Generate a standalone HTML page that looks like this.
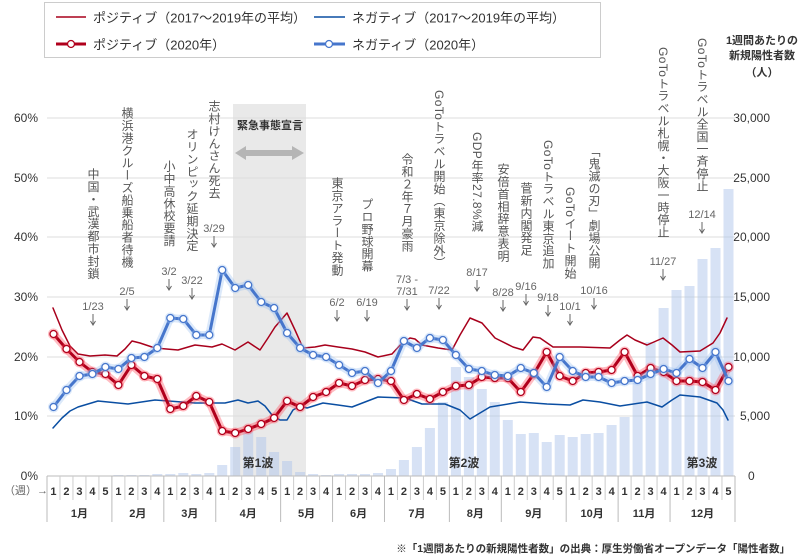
<!DOCTYPE html>
<html><head><meta charset="utf-8">
<style>
html,body{margin:0;padding:0;background:#fff;}
#wrap{position:relative;width:800px;height:560px;overflow:hidden;font-family:"Liberation Sans","Noto Sans CJK JP",sans-serif;}
svg{position:absolute;left:0;top:0;}
.v{position:absolute;writing-mode:vertical-rl;font-size:12px;line-height:12px;letter-spacing:0.4px;color:#555;white-space:nowrap;transform:translateX(-50%);}
.d{position:absolute;font-size:11px;color:#666;transform:translate(-50%,-50%);white-space:nowrap;line-height:12px;text-align:center;}
.lg{position:absolute;left:44px;top:2px;width:557px;height:56px;border:1px solid #ccc;box-sizing:border-box;}
.lt{position:absolute;font-size:13px;color:#333;white-space:nowrap;transform:translateY(-50%);}
</style></head><body>
<div id="wrap">
<svg id="s" width="800" height="560" xmlns="http://www.w3.org/2000/svg"></svg>
<div class="lg"></div>
<div class="lt" style="left:93px;top:17px">ポジティブ（2017〜2019年の平均）</div>
<div class="lt" style="left:352px;top:17px">ネガティブ（2017〜2019年の平均）</div>
<div class="lt" style="left:93px;top:44px">ポジティブ（2020年）</div>
<div class="lt" style="left:352px;top:44px">ネガティブ（2020年）</div>

<div class="v" style="left:93px;top:168px">中国・武漢都市封鎖</div>
<div class="v" style="left:127px;top:107px">横浜港クルーズ船乗船者待機</div>
<div class="v" style="left:169px;top:160px">小中高休校要請</div>
<div class="v" style="left:192px;top:128px">オリンピック延期決定</div>
<div class="v" style="left:214px;top:100px">志村けんさん死去</div>
<div class="v" style="left:337px;top:177px">東京アラート発動</div>
<div class="v" style="left:367px;top:198px">プロ野球開幕</div>
<div class="v" style="left:407px;top:153px">令和２年７月豪雨</div>
<div class="v" style="left:439px;top:90px">GoToトラベル開始（東京除外）</div>
<div class="v" style="left:477px;top:132px">GDP年率27.8%減</div>
<div class="v" style="left:503px;top:163px">安倍首相辞意表明</div>
<div class="v" style="left:526px;top:182px">菅新内閣発足</div>
<div class="v" style="left:548px;top:140px">GoToトラベル東京追加</div>
<div class="v" style="left:570px;top:187px">GoToイート開始</div>
<div class="v" style="left:594px;top:145px">「鬼滅の刃」劇場公開</div>
<div class="v" style="left:663px;top:47px">GoToトラベル札幌・大阪一時停止</div>
<div class="v" style="left:702px;top:38px">GoToトラベル全国一斉停止</div>

<div class="d" style="left:93px;top:307px">1/23</div>
<div class="d" style="left:127px;top:292px">2/5</div>
<div class="d" style="left:169px;top:272px">3/2</div>
<div class="d" style="left:192px;top:281px">3/22</div>
<div class="d" style="left:214px;top:229px">3/29</div>
<div class="d" style="left:337px;top:303px">6/2</div>
<div class="d" style="left:367px;top:303px">6/19</div>
<div class="d" style="left:407px;top:286px">7/3 -<br>7/31</div>
<div class="d" style="left:439px;top:291px">7/22</div>
<div class="d" style="left:477px;top:273px">8/17</div>
<div class="d" style="left:503px;top:293px">8/28</div>
<div class="d" style="left:526px;top:287px">9/16</div>
<div class="d" style="left:548px;top:298px">9/18</div>
<div class="d" style="left:570px;top:307px">10/1</div>
<div class="d" style="left:594px;top:291px">10/16</div>
<div class="d" style="left:663px;top:262px">11/27</div>
<div class="d" style="left:702px;top:215px">12/14</div>
</div>
<script>
var s=document.getElementById('s'),h='';
function X(i){return 47+12.98*(i-0.5);}
h+='<rect x="233" y="104" width="73" height="372" fill="#e9e9e9"/>';
[118,178,237,297,357,416].forEach(function(y){h+='<line x1="47" x2="735" y1="'+y+'" y2="'+y+'" stroke="#ddd" stroke-width="1"/>';});
var bars=[476,476,476,476,476,475,475,475,474,474,473,474,473,465,447,432,437,452,461,472,474,475,474,474,474,473,469,460,447,428,402,367,377,389,402,420,434,433,442,435,437,434,433,425,417,383,342,308,290,286,259,248,189];
bars.forEach(function(t,k){if(t<476)h+='<rect x="'+(X(k+1)-5).toFixed(1)+'" y="'+t+'" width="10" height="'+(476-t)+'" fill="rgb(175,198,235)" fill-opacity="0.5"/>';});
h+='<line x1="47" x2="735" y1="476" y2="476" stroke="#bbb"/>';
var L=['60%','50%','40%','30%','20%','10%','0%'],R=['30,000','25,000','20,000','15,000','10,000','5,000','0'];
[118,178,237,297,357,416,476].forEach(function(y,k){
h+='<text x="38" y="'+(y+4)+'" font-size="12" text-anchor="end" fill="#333">'+L[k]+'</text>';
h+='<text x="'+(k==6?748:770)+'" y="'+(y+4)+'" font-size="12" text-anchor="'+(k==6?'start':'end')+'" fill="#333">'+R[k]+'</text>';});
h+='<text x="762" y="44" font-size="11" font-weight="bold" text-anchor="middle" fill="#333">1週間あたりの</text>';
h+='<text x="762" y="59" font-size="11" font-weight="bold" text-anchor="middle" fill="#333">新規陽性者数</text>';
h+='<text x="762" y="76" font-size="11" font-weight="bold" text-anchor="middle" fill="#333">（人）</text>';
var months=[5,4,4,5,4,4,5,4,5,4,4,5],wi=1;
h+='<text x="4" y="494" font-size="11" fill="#666">（週）→</text>';
months.forEach(function(n,m){
 var x0=47+12.98*(wi-1);
 h+='<line x1="'+x0+'" x2="'+x0+'" y1="476" y2="522" stroke="#bbb"/>';
 for(var j=1;j<=n;j++){var xi=X(wi+j-1);
  if(j>1)h+='<line x1="'+(xi-6.49)+'" x2="'+(xi-6.49)+'" y1="476" y2="500" stroke="#ccc"/>';
  h+='<text x="'+xi+'" y="495" font-size="11" font-weight="bold" text-anchor="middle" fill="#333">'+j+'</text>';}
 h+='<text x="'+(x0+12.98*n/2)+'" y="517" font-size="11" font-weight="bold" text-anchor="middle" fill="#333">'+(m+1)+'月</text>';
 wi+=n;});
h+='<line x1="735" x2="735" y1="476" y2="522" stroke="#bbb"/>';
h+='<text x="270" y="129" font-size="11" font-weight="bold" text-anchor="middle" fill="#333">緊急事態宣言</text>';
h+='<path d="M235 153 L246 146 L246 150 L292 150 L292 146 L304 153 L292 160 L292 156 L246 156 L246 160 Z" fill="#b5b5b5"/>';
h+='<text x="258" y="467" font-size="12" font-weight="bold" text-anchor="middle" fill="#333">第1波</text>';
h+='<text x="464" y="467" font-size="12" font-weight="bold" text-anchor="middle" fill="#333">第2波</text>';
h+='<text x="702" y="467" font-size="12" font-weight="bold" text-anchor="middle" fill="#333">第3波</text>';
[[93,307],[127,292],[169,272],[192,281],[214,229],[337,303],[367,303],[407,292],[439,291],[477,273],[503,293],[526,287],[548,298],[570,307],[594,291],[663,262],[702,215]].forEach(function(a){
 var y=a[1]+7;h+='<line x1="'+a[0]+'" x2="'+a[0]+'" y1="'+y+'" y2="'+(y+10)+'" stroke="#666" stroke-width="1"/><path d="M'+(a[0]-2.5)+' '+(y+7)+' L'+a[0]+' '+(y+11)+' L'+(a[0]+2.5)+' '+(y+7)+'" fill="none" stroke="#666" stroke-width="1"/>';});
function pl(p,c,w,o){return '<polyline points="'+p.map(function(q){return q.join(',')}).join(' ')+'" fill="none" stroke="'+c+'" stroke-width="'+w+'" stroke-linejoin="round" stroke-linecap="round"'+(o?' stroke-opacity="'+o+'"':'')+'/>';}
var ra=[[53,308],[62,330],[70,346],[78,354],[90,356],[105,355],[117,356],[125,349],[132,341],[140,343],[155,348],[178,350],[195,345],[212,347],[222,344],[235,350],[248,342],[260,350],[268,338],[275,327],[287,313],[295,330],[303,348],[315,347],[325,345],[338,347],[352,349],[365,352],[378,357],[392,354],[402,343],[410,338],[415,339],[422,345],[438,348],[452,350],[460,335],[470,318],[482,323],[495,338],[513,347],[523,350],[533,337],[540,338],[553,347],[580,347],[610,348],[620,340],[627,335],[635,340],[647,345],[663,338],[672,345],[680,352],[700,351],[713,343],[720,333],[727,318]];
var ba=[[53,428],[62,418],[70,411],[78,407],[98,401],[128,404],[155,400],[195,403],[225,403],[238,400],[248,403],[258,401],[265,406],[272,415],[280,420],[287,420],[293,410],[300,406],[307,408],[323,403],[338,405],[352,407],[378,397],[405,398],[422,404],[445,404],[460,410],[470,419],[480,413],[490,407],[520,402],[547,404],[570,405],[583,400],[600,402],[620,406],[647,402],[662,407],[672,400],[680,395],[700,397],[717,403],[723,410],[728,420]];
h+=pl(ra,'#a8001c',1.5)+pl(ba,'#0a4ea2',1.5);
var r=[334,349,362,372,374,385,365,376,379,409,406,396,402,431,433,429,424,418,401,407,397,392,383,386,380,379,381,400,394,399,392,386,385,377,378,378,392,374,352,376,381,373,372,370,352,376,368,372,381,381,382,390,367];
var b=[407,390,376,374,367,369,358,357,348,318,319,335,335,270,288,285,302,308,333,348,355,357,365,373,371,383,371,341,348,338,340,355,369,371,375,376,368,373,387,357,371,377,377,383,381,380,374,369,373,359,368,352,381];
function ser(d,c,g){var p=d.map(function(y,k){return [X(k+1).toFixed(1),y]});
 var o=pl(p,g,8,0.35)+pl(p,c,3);
 p.forEach(function(q){o+='<circle cx="'+q[0]+'" cy="'+q[1]+'" r="5.5" fill="'+g+'" fill-opacity="0.35"/><circle cx="'+q[0]+'" cy="'+q[1]+'" r="3.5" fill="#fff" stroke="'+c+'" stroke-width="1.3"/>';});return o;}
h+=ser(r,'#b0001c','#ff4050')+ser(b,'#4676cc','#9cc0f0');
h+='<line x1="56" x2="86" y1="17" y2="17" stroke="#a8001c" stroke-width="1.5"/>';
h+='<line x1="314" x2="345" y1="17" y2="17" stroke="#0a4ea2" stroke-width="1.5"/>';
h+='<line x1="56" x2="86" y1="44" y2="44" stroke="#b0001c" stroke-width="3"/><circle cx="71" cy="44" r="3.5" fill="#fff" stroke="#b0001c" stroke-width="1.3"/>';
h+='<line x1="314" x2="345" y1="44" y2="44" stroke="#4676cc" stroke-width="3"/><circle cx="329" cy="44" r="3.5" fill="#fff" stroke="#4676cc" stroke-width="1.3"/>';
h+='<text x="790" y="552" font-size="10.5" font-weight="bold" text-anchor="end" fill="#333">※「1週間あたりの新規陽性者数」の出典：厚生労働省オープンデータ「陽性者数」</text>';
s.innerHTML=h;
</script>
</body></html>
